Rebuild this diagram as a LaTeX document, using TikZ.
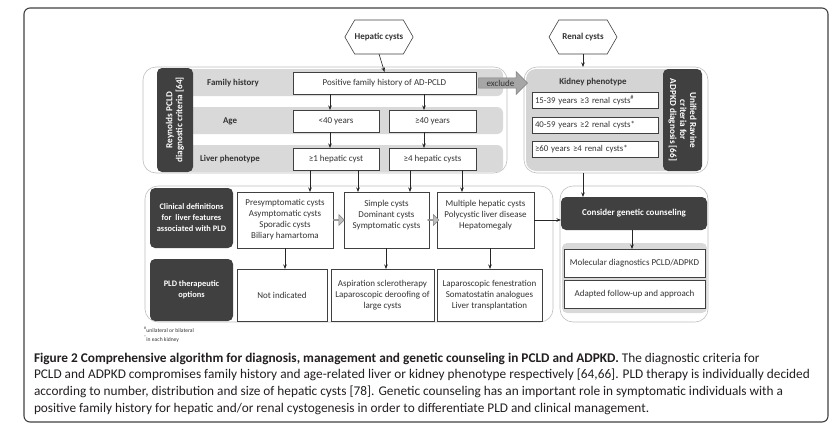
\documentclass[tikz,border=0pt]{standalone}
\usepackage{fontspec}
\setmainfont{Carlito}
\usetikzlibrary{shapes.symbols,shapes.arrows,arrows.meta,calc}
\definecolor{darkc}{HTML}{404040}
\definecolor{bandc}{HTML}{D9D9D9}
\definecolor{kidc}{HTML}{D4D4D4}
\definecolor{outc}{HTML}{BFBFBF}
\definecolor{boxc}{HTML}{404040}
\definecolor{arrc}{HTML}{262626}
\definecolor{txtc}{HTML}{333333}
\definecolor{capc}{HTML}{231F20}
\definecolor{exfill}{HTML}{A6A6A6}
\definecolor{exline}{HTML}{7F7F7F}
\begin{document}
\begin{tikzpicture}[x=1pt,y=-1pt,
 every node/.style={inner sep=0pt, outer sep=0pt},
 box/.style={draw=boxc, line width=0.6pt, fill=white, align=center, text=txtc, font=\fontsize{9}{11}\selectfont},
 kbox/.style={draw=boxc, line width=0.6pt, fill=white, align=left, text=txtc, text width=120pt, inner xsep=3pt, minimum height=16pt, font=\fontsize{8.8}{10}\selectfont},
 darkbox/.style={fill=darkc, rounded corners=5pt, text=white, align=center, font=\bfseries\fontsize{8.4}{11}\selectfont},
 rotbox/.style={fill=darkc, rounded corners=5pt, text=white, align=center, font=\bfseries\fontsize{9.2}{10}\selectfont},
 band/.style={fill=bandc, rounded corners=6pt},
 grp/.style={draw=outc, line width=0.6pt, rounded corners=13pt},
 arr/.style={draw=arrc, line width=0.6pt, -{Stealth[length=4.5pt,width=3.5pt]}},
 lab/.style={text=txtc, font=\bfseries\fontsize{8.9}{10}\selectfont},
 hexa/.style={draw=boxc, line width=0.6pt, fill=white, shape=signal, signal to=east and west, signal pointer angle=120, minimum width=68pt, minimum height=34pt, font=\bfseries\fontsize{9}{10}\selectfont, text=txtc},
 blk/.style={single arrow, fill=outc, draw=exline, line width=0.5pt, minimum height=11pt, minimum width=11pt, single arrow head extend=2pt},
 captxt/.style={anchor=base west, text=capc, font=\fontsize{13.3}{16.8}\selectfont},
 fn/.style={anchor=base west, text=txtc, font=\fontsize{5.6}{6}\selectfont},
]
\useasboundingbox (0,0) rectangle (840,445);
% outer frame
\draw[rounded corners=6pt, line width=1.1pt, draw=darkc] (24,8) rectangle (828,422);

% hexagons
\node[hexa] (hep) at (379,37) {Hepatic cysts};
\node[hexa] (ren) at (583,37) {Renal cysts};

% Reynolds group
\path[grp] (143,67) rectangle (507,173);
\path[band] (185,69) rectangle (503,96);
\path[band] (185,107) rectangle (503,134);
\path[band] (185,145) rectangle (503,172);
\node[rotbox, rotate=90, minimum width=104pt, minimum height=36pt] (rey) at (175,120) {Reynolds PCLD\\diagnostic criteria [64]};
\node[lab] (lfam) at (233,83) {Family history};
\node[lab] (lage) at (230,121) {Age};
\node[lab] (lliv) at (230,159) {Liver phenotype};
\node[box, minimum width=183pt, minimum height=22pt] (pos) at (384.5,83) {Positive family history of AD-PCLD};
\node[box, minimum width=86pt, minimum height=22pt] (lt40) at (336,121) {<40 years};
\node[box, minimum width=87pt, minimum height=22pt] (ge40) at (432.5,121) {≥40 years};
\node[box, minimum width=86pt, minimum height=22pt] (ge1) at (336,159) {≥1 hepatic cyst};
\node[box, minimum width=87pt, minimum height=22pt] (ge4) at (432.5,159) {≥4 hepatic cysts};

% Kidney group
\path[grp] (524,67) rectangle (708,173);
\path[fill=kidc, rounded corners=10pt] (526,69) rectangle (702,171);
\node[rotbox, rotate=-90, minimum width=102pt, minimum height=39pt] (uni) at (682.5,120) {Unified Ravine\\criteria for\\ADPKD diagnosis [66]};
\node[lab] (lkid) at (593,82) {Kidney phenotype};
\node[kbox] (k1) at (595,100.5) {15-39 years ≥3 renal cysts\textsuperscript{\#}};
\node[kbox] (k2) at (595,125) {40-59 years ≥2 renal cysts*};
\node[kbox] (k3) at (595,149) {≥60 years ≥4 renal cysts*};
\coordinate (kidtop) at (583,67);
\coordinate (kidbot) at (583,173);

% exclude arrow
\node[single arrow, fill=exfill, draw=exline, line width=0.5pt, minimum height=49pt, minimum width=23pt, single arrow head extend=6pt, single arrow tip angle=90, inner ysep=1.5pt, text=txtc, font=\fontsize{9}{10}\selectfont] (excl) at (500.5,83) {exclude\hspace{8pt}};

% Clinical group
\path[grp] (145,186) rectangle (553,322);
\node[darkbox, minimum width=83pt, minimum height=60pt] (cdef) at (191.5,218) {Clinical definitions\\for\ \ liver features\\associated with PLD};
\node[darkbox, minimum width=83pt, minimum height=62pt] (pldt) at (191.5,290) {PLD therapeutic\\options};
\node[box, minimum width=96pt, minimum height=56pt] (A) at (285,220) {Presymptomatic cysts\\Asymptomatic cysts\\Sporadic cysts\\Biliary hamartoma};
\node[box, minimum width=85pt, minimum height=56pt] (B) at (386.5,220) {Simple cysts\\Dominant cysts\\Symptomatic cysts\\\mbox{}};
\node[box, minimum width=97pt, minimum height=56pt] (C) at (485.5,220) {Multiple hepatic cysts\\Polycystic liver disease\\Hepatomegaly\\\mbox{}};
\node[box, minimum width=90pt, minimum height=52pt] (D) at (282,295) {Not indicated};
\node[box, minimum width=103pt, minimum height=52pt] (E) at (382.5,295) {Aspiration sclerotherapy\\Laparoscopic deroofing of\\large cysts};
\node[box, minimum width=105pt, minimum height=52pt] (F) at (489.5,295) {Laparoscopic fenestration\\Somatostatin analogues\\Liver transplantation};
\node[blk] (bab) at ($(A.east)!0.5!(B.west)$) {};
\node[blk] (bbc) at ($(B.east)!0.5!(C.west)$) {};

% Counseling group
\path[grp] (560,186) rectangle (708,322);
\node[darkbox, minimum width=146pt, minimum height=33pt, font=\bfseries\fontsize{9}{11}\selectfont] (cons) at (634,213.5) {Consider genetic counseling};
\path[fill=bandc, rounded corners=5pt] (562,243) rectangle (707,313);
\node[box, minimum width=141pt, minimum height=28pt] (mol) at (634.5,263) {Molecular diagnostics PCLD/ADPKD};
\node[box, minimum width=141pt, minimum height=28pt] (adp) at (634.5,294) {Adapted follow-up and approach};

% arrow x positions
\coordinate (x330) at (330,0);
\coordinate (x424) at (424,0);
\coordinate (x310) at (310,0);
\coordinate (x358) at (358,0);
\coordinate (x410) at (410,0);
\coordinate (x462) at (462,0);
\coordinate (x285) at (285,0);
\coordinate (x386) at (386,0);
\coordinate (x490) at (490,0);
\coordinate (x632) at (632,0);

\draw[arr] (hep.south) -- (pos.north);
\draw[arr] (pos.south -| x330) -- (lt40.north -| x330);
\draw[arr] (pos.south -| x424) -- (ge40.north -| x424);
\draw[arr] (lt40.south -| x330) -- (ge1.north -| x330);
\draw[arr] (ge40.south -| x424) -- (ge4.north -| x424);
\draw[arr] (ge1.south -| x310) -- (A.north -| x310);
\draw[arr] (ge1.south -| x358) -- (B.north -| x358);
\draw[arr] (ge4.south -| x410) -- (B.north -| x410);
\draw[arr] (ge4.south -| x462) -- (C.north -| x462);
\draw[arr] (A.south -| x285) -- (D.north -| x285);
\draw[arr] (B.south -| x386) -- (E.north -| x386);
\draw[arr] (C.south -| x490) -- (F.north -| x490);
\draw[arr] (C.east) -- (cons.west |- C.east);
\draw[arr] (ren.south) -- (kidtop);
\draw[arr] (kidbot) -- (cons.north -| kidbot);
\draw[arr] (cons.south -| x632) -- (mol.north -| x632);

% footnotes
\node[fn] (fn1) at (144,332) {\textsuperscript{\#}unilateral or bilateral};
\node[fn] (fn2) at (144,341) {\textsuperscript{*}in each kidney};

% caption
\node[captxt] (cap1) at (34,362) {\textbf{Figure 2 Comprehensive algorithm for diagnosis, management and genetic counseling in PCLD and ADPKD.} The diagnostic criteria for};
\node[captxt] (cap2) at (34,378.8) {PCLD and ADPKD compromises family history and age-related liver or kidney phenotype respectively [64,66]. PLD therapy is individually decided};
\node[captxt] (cap3) at (34,395.6) {according to number, distribution and size of hepatic cysts [78]. Genetic counseling has an important role in symptomatic individuals with a};
\node[captxt] (cap4) at (34,412.4) {positive family history for hepatic and/or renal cystogenesis in order to differentiate PLD and clinical management.};
\end{tikzpicture}
\end{document}
